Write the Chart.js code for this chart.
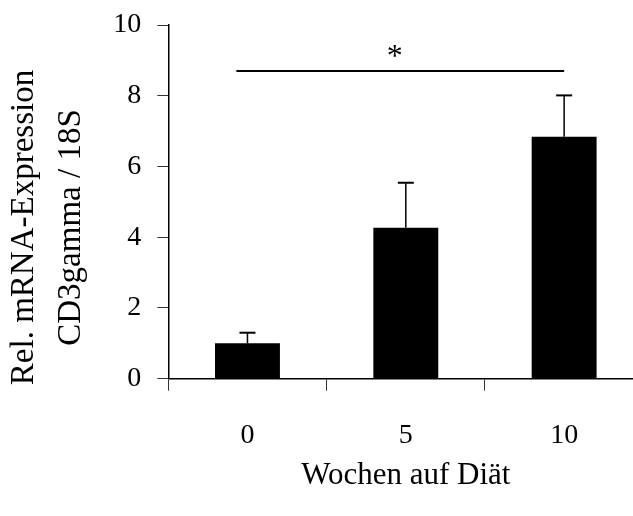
<!DOCTYPE html>
<html>
<head>
<meta charset="utf-8">
<script src="https://cdn.jsdelivr.net/npm/chart.js@4/dist/chart.umd.min.js"></script>
<style>
  html, body { margin: 0; padding: 0; background: #fff; overflow: hidden; }
  #c { display: block; }
</style>
</head>
<body>
<canvas id="c" width="660" height="516"></canvas>
<script>
// Weeks on diet and relative CD3gamma expression (normalised to 18S)
const weeks = ['0', '5', '10'];
const expression = [1.0, 4.27, 6.84];
const sem = [0.30, 1.27, 1.17];
const yTicks = [0, 2, 4, 6, 8, 10];
const yTitleLines = ['Rel. mRNA-Expression', 'CD3gamma / 18S'];
const xTitle = 'Wochen auf Diät';
// significance bracket between week 0 and week 10
const sigFrom = -0.07;
const sigTo = 2;
const sigLevel = 8.7;
const sigMark = '*';
const sigMarkAt = 0.93;
const sigMarkLevel = 9.2;

const FONT = '"Liberation Serif", "Times New Roman", serif';

// upward error whiskers with caps
const errorBars = {
  id: 'errorBars',
  afterDatasetsDraw(chart) {
    const { ctx, scales: { y } } = chart;
    const meta = chart.getDatasetMeta(0);
    ctx.save();
    ctx.strokeStyle = '#000';
    meta.data.forEach((bar, i) => {
      const top = y.getPixelForValue(expression[i] + sem[i]);
      ctx.lineWidth = 1.5;
      ctx.beginPath();
      ctx.moveTo(bar.x, bar.y);
      ctx.lineTo(bar.x, top);
      ctx.stroke();
      ctx.lineWidth = 2;
      ctx.beginPath();
      ctx.moveTo(bar.x - 8, top);
      ctx.lineTo(bar.x + 8, top);
      ctx.stroke();
    });
    ctx.restore();
  }
};

// significance line with asterisk
const significance = {
  id: 'significance',
  afterDatasetsDraw(chart) {
    const { ctx, scales: { x, y } } = chart;
    const yy = y.getPixelForValue(sigLevel);
    ctx.save();
    ctx.strokeStyle = '#000';
    ctx.lineWidth = 2;
    ctx.beginPath();
    ctx.moveTo(x.getPixelForValue(sigFrom), yy);
    ctx.lineTo(x.getPixelForValue(sigTo), yy);
    ctx.stroke();
    ctx.fillStyle = '#000';
    ctx.font = '32px ' + FONT;
    ctx.textAlign = 'center';
    ctx.textBaseline = 'middle';
    ctx.fillText(sigMark, x.getPixelForValue(sigMarkAt), y.getPixelForValue(sigMarkLevel) + 4);
    ctx.restore();
  }
};

// two-line rotated y-axis title
const yTitle = {
  id: 'yTitle',
  afterDraw(chart) {
    const { ctx } = chart;
    ctx.save();
    ctx.translate(24.5, 227.5);
    ctx.rotate(-Math.PI / 2);
    ctx.fillStyle = '#000';
    ctx.font = '33px ' + FONT;
    ctx.textAlign = 'center';
    ctx.textBaseline = 'middle';
    ctx.fillText(yTitleLines[0], 0, 0);
    ctx.fillText(yTitleLines[1], 0, 46.5);
    ctx.restore();
  }
};

new Chart(document.getElementById('c'), {
  type: 'bar',
  data: {
    labels: weeks,
    datasets: [{
      data: expression,
      backgroundColor: '#000',
      borderWidth: 0,
      barPercentage: 0.41,
      categoryPercentage: 1.0
    }]
  },
  options: {
    responsive: false,
    animation: false,
    events: [],
    layout: { padding: { top: 25, right: 16.7, bottom: 0, left: 0 } },
    plugins: {
      legend: { display: false },
      tooltip: { enabled: false }
    },
    scales: {
      x: {
        type: 'category',
        offset: true,
        afterFit(scale) { scale.height = 137.3; },
        grid: {
          offset: true,
          drawOnChartArea: false,
          drawTicks: true,
          tickLength: 12,
          color: '#333',
          lineWidth: 1
        },
        border: { display: true, color: '#000', width: 1.5 },
        ticks: {
          color: '#000',
          padding: 28,
          font: { family: FONT, size: 28 },
          maxRotation: 0
        },
        title: {
          display: true,
          text: xTitle,
          color: '#000',
          font: { family: FONT, size: 31 },
          padding: { top: 0, bottom: 22 }
        }
      },
      y: {
        min: 0,
        max: 10,
        afterFit(scale) {
          scale.width = 168.3;
          scale.paddingTop = 0;
          scale.paddingBottom = 0;
        },
        afterBuildTicks(scale) { scale.ticks = yTicks.map(v => ({ value: v })); },
        grid: {
          drawOnChartArea: false,
          drawTicks: true,
          tickLength: 11,
          color: '#333',
          lineWidth: 1
        },
        border: { display: true, color: '#000', width: 1.5 },
        ticks: {
          color: '#000',
          padding: 16,
          font: { family: FONT, size: 28 }
        }
      }
    }
  },
  plugins: [errorBars, significance, yTitle]
});
</script>
</body>
</html>
